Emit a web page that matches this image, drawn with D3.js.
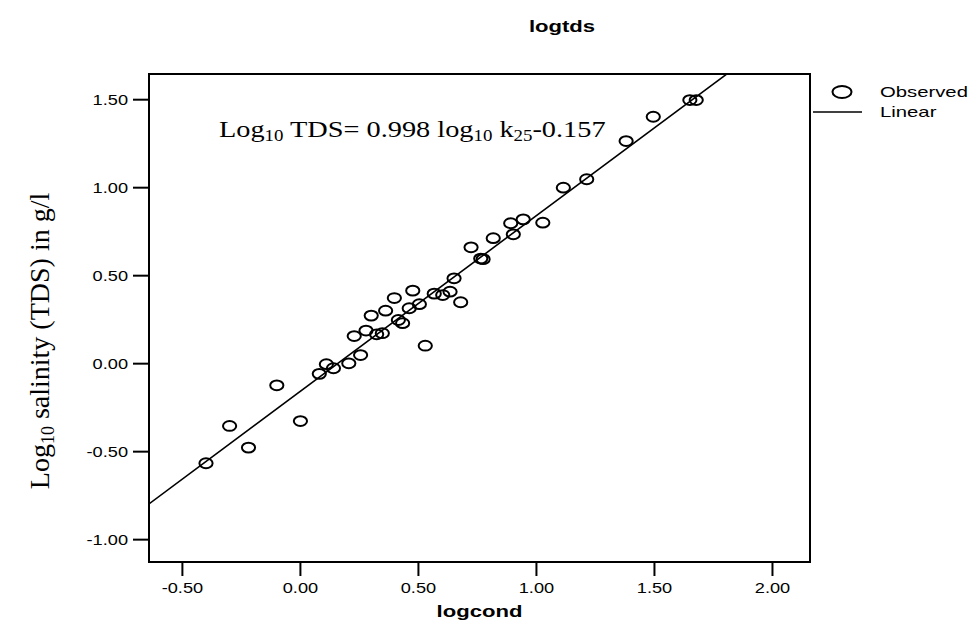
<!DOCTYPE html>
<html>
<head>
<meta charset="utf-8">
<script src="https://cdn.jsdelivr.net/npm/d3@7"></script>
<style>
  body { margin: 0; background: #fff; }
  svg { display: block; }
</style>
</head>
<body>
<div id="chart"></div>
<script>
// observed points
const logcond = [-0.40, -0.30, -0.22, -0.10, 0.00, 0.08, 0.11, 0.14, 0.205, 0.228, 0.255, 0.278,
  0.30, 0.323, 0.347, 0.361, 0.398, 0.415, 0.433, 0.461, 0.476, 0.504, 0.529, 0.567, 0.603,
  0.634, 0.651, 0.679, 0.723, 0.764, 0.774, 0.817, 0.891, 0.902, 0.944, 1.027, 1.114, 1.213,
  1.38, 1.495, 1.65, 1.677]
const logtds = [-0.566, -0.354, -0.477, -0.123, -0.326, -0.058, -0.003, -0.026, 0.002, 0.157,
  0.049, 0.188, 0.273, 0.167, 0.173, 0.301, 0.373, 0.248, 0.230, 0.315, 0.415, 0.338, 0.102,
  0.398, 0.390, 0.409, 0.485, 0.349, 0.661, 0.597, 0.594, 0.713, 0.798, 0.735, 0.820, 0.801,
  1.000, 1.048, 1.265, 1.403, 1.498, 1.498]

// fitted line
const slope = 0.998
const intercept = -0.157

const xTicks = [-0.5, 0, 0.5, 1, 1.5, 2]
const xTickLabels = ["-0.50", "0.00", "0.50", "1.00", "1.50", "2.00"]
const yTicks = [-1, -0.5, 0, 0.5, 1, 1.5]
const yTickLabels = ["-1.00", "-0.50", "0.00", "0.50", "1.00", "1.50"]

const width = 975
const height = 628
const plot = { left: 149, right: 810, top: 74, bottom: 562 }
const stretch = 1.3   // the original picture is wider than tall

const x = d3.scaleLinear().domain([-0.6415, 2.159]).range([plot.left, plot.right])
const y = d3.scaleLinear().domain([-1.127, 1.646]).range([plot.bottom, plot.top])

const svg = d3.select("#chart")
  .append("svg")
  .attr("width", width)
  .attr("height", height)

function addText(parent, px, py, sx) {
  return parent.append("text")
    .attr("transform", "translate(" + px + "," + py + ") scale(" + sx + ",1)")
}

const sans = "'Liberation Sans', Arial, sans-serif"
const serif = "'Liberation Serif', 'Times New Roman', serif"

// title
addText(svg, 562, 32, stretch)
  .attr("text-anchor", "middle")
  .attr("font-family", sans)
  .attr("font-weight", "bold")
  .attr("font-size", 17)
  .text("logtds")

// clip for the fit line
svg.append("clipPath")
  .attr("id", "plotclip")
  .append("rect")
  .attr("x", plot.left)
  .attr("y", plot.top)
  .attr("width", plot.right - plot.left)
  .attr("height", plot.bottom - plot.top)

// fit line
const xd = x.domain()
svg.append("line")
  .attr("clip-path", "url(#plotclip)")
  .attr("x1", x(xd[0]))
  .attr("y1", y(slope * xd[0] + intercept))
  .attr("x2", x(xd[1]))
  .attr("y2", y(slope * xd[1] + intercept))
  .attr("stroke", "black")
  .attr("stroke-width", 1.6)

// observed points
svg.append("g")
  .selectAll("ellipse")
  .data(d3.range(logcond.length))
  .join("ellipse")
  .attr("cx", i => x(logcond[i]))
  .attr("cy", i => y(logtds[i]))
  .attr("rx", 6.6)
  .attr("ry", 4.9)
  .attr("fill", "none")
  .attr("stroke", "black")
  .attr("stroke-width", 2)

// frame
svg.append("rect")
  .attr("x", plot.left)
  .attr("y", plot.top)
  .attr("width", plot.right - plot.left)
  .attr("height", plot.bottom - plot.top)
  .attr("fill", "none")
  .attr("stroke", "black")
  .attr("stroke-width", 2)

// y axis ticks
const yAxis = svg.append("g")
yTicks.forEach(function (v, i) {
  yAxis.append("line")
    .attr("x1", plot.left - 16)
    .attr("x2", plot.left)
    .attr("y1", y(v))
    .attr("y2", y(v))
    .attr("stroke", "black")
    .attr("stroke-width", 2)
  addText(yAxis, plot.left - 21, y(v) + 5, stretch)
    .attr("text-anchor", "end")
    .attr("font-family", sans)
    .attr("font-size", 14)
    .text(yTickLabels[i])
})

// x axis ticks
const xAxis = svg.append("g")
xTicks.forEach(function (v, i) {
  xAxis.append("line")
    .attr("x1", x(v))
    .attr("x2", x(v))
    .attr("y1", plot.bottom)
    .attr("y2", plot.bottom + 14)
    .attr("stroke", "black")
    .attr("stroke-width", 2)
  addText(xAxis, x(v), plot.bottom + 31, stretch)
    .attr("text-anchor", "middle")
    .attr("font-family", sans)
    .attr("font-size", 14)
    .text(xTickLabels[i])
})

// x axis title
addText(svg, (plot.left + plot.right) / 2, 617, stretch)
  .attr("text-anchor", "middle")
  .attr("font-family", sans)
  .attr("font-weight", "bold")
  .attr("font-size", 17)
  .text("logcond")

// y axis title
const ylab = svg.append("text")
  .attr("transform", "translate(49,341) rotate(-90)")
  .attr("text-anchor", "middle")
  .attr("font-family", serif)
  .attr("font-size", 28)
ylab.append("tspan").text("Log")
ylab.append("tspan").attr("font-size", 18).attr("dy", 5).text("10")
ylab.append("tspan").attr("dy", -5).text(" salinity (TDS) in g/l")

// equation
const eq = addText(svg, 219, 137, 1.18)
  .attr("font-family", serif)
  .attr("font-size", 24)
eq.append("tspan").text("Log")
eq.append("tspan").attr("font-size", 16).attr("dy", 4).text("10")
eq.append("tspan").attr("dy", -4).text(" TDS= 0.998 log")
eq.append("tspan").attr("font-size", 16).attr("dy", 4).text("10")
eq.append("tspan").attr("dy", -4).text(" k")
eq.append("tspan").attr("font-size", 16).attr("dy", 4).text("25")
eq.append("tspan").attr("dy", -4).text("-0.157")

// legend
const legend = svg.append("g")
legend.append("ellipse")
  .attr("cx", 842)
  .attr("cy", 92)
  .attr("rx", 9.5)
  .attr("ry", 6)
  .attr("fill", "none")
  .attr("stroke", "black")
  .attr("stroke-width", 2)
addText(legend, 880, 97, 1.45)
  .attr("font-family", sans)
  .attr("font-size", 14)
  .text("Observed")
legend.append("line")
  .attr("x1", 813)
  .attr("x2", 862)
  .attr("y1", 112)
  .attr("y2", 112)
  .attr("stroke", "black")
  .attr("stroke-width", 1.6)
addText(legend, 880, 117, 1.45)
  .attr("font-family", sans)
  .attr("font-size", 14)
  .text("Linear")
</script>
</body>
</html>
